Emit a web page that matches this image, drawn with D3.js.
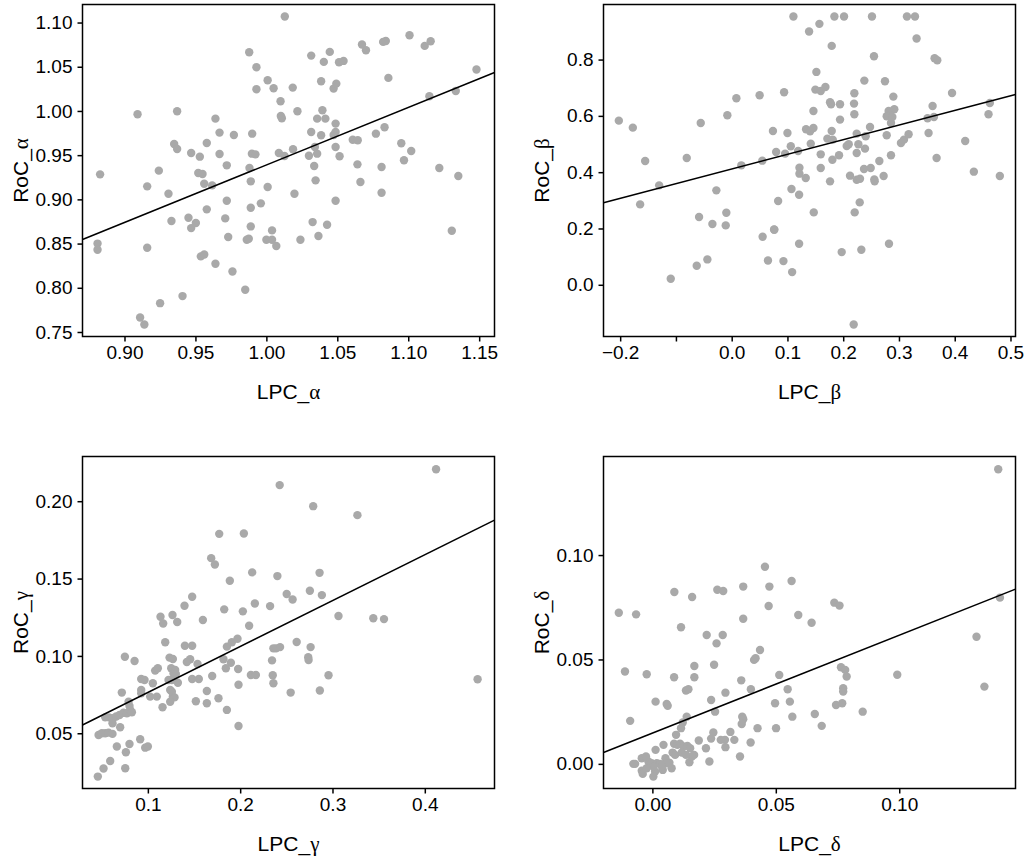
<!DOCTYPE html>
<html>
<head>
<meta charset="utf-8">
<script src="https://cdn.jsdelivr.net/npm/d3@7"></script>
<style>
  body { margin: 0; background: #fff; }
</style>
</head>
<body>
<div id="container"></div>
<script>
// [LPC, RoC] pairs, one array per band
const alphaPts = [
  [0.9092,0.9962],[0.9371,0.9996],[0.8828,0.9283],[0.881,0.85],[0.881,0.843],[0.916,0.9147],[0.9242,0.9325],[0.931,0.9064],
  [0.935,0.9626],[0.9371,0.957],[0.9331,0.8755],[0.916,0.8453],[0.911,0.7664],[0.914,0.7585],[0.9251,0.7826],[0.9409,0.7906],
  [0.947,0.9525],[0.9451,0.8792],[0.947,0.8675],[0.9503,0.8732],[0.9531,0.9483],[0.952,0.9298],[0.955,0.9287],[0.9562,0.9177],
  [0.9618,0.9158],[0.958,0.9638],[0.9641,0.9913],[0.967,0.9755],[0.967,0.9513],[0.9721,0.9385],[0.9721,0.8985],[0.958,0.8887],
  [0.971,0.8785],[0.9731,0.8574],[0.9538,0.8355],[0.9562,0.8377],[0.9641,0.8272],[0.9761,0.8185],[0.9771,0.9728],[0.9851,0.7977],
  [0.9879,1.0664],[0.993,1.0494],[0.993,1.0245],[0.99,0.9743],[0.9898,0.9517],[0.9923,0.9509],[0.9881,0.9355],[0.989,0.9204],
  [0.989,0.8906],[0.989,0.8694],[0.9961,0.8955],[0.9862,0.8543],[0.9876,0.8555],
  [1.013,1.1068],[1.0009,1.0347],[1.0051,1.0257],[1.0186,1.0264],[1.01,1.0109],[1.0102,0.9943],[1.0109,0.9917],[1.0219,0.9996],
  [1.0316,1.0626],[1.0405,1.0555],[1.0447,1.0668],[1.0386,1.0336],[1.0474,1.0253],[1.0493,1.0309],[1.0512,1.0551],[1.0544,1.0566],
  [1.0674,1.0751],[1.0702,1.0687],[1.0823,1.0781],[1.0842,1.0792],[1.1009,1.0857],[1.1116,1.0736],[1.1158,1.0789],[1.086,1.0374],
  [1.1481,1.0468],[1.1335,1.0226],[1.1149,1.0166],[1.0395,1.0008],[1.0358,0.9913],[1.0416,0.9913],[1.0316,0.9762],[1.0488,0.9857],
  [1.0386,0.9725],[1.0488,0.9762],[1.0474,0.9728],[1.03,0.9494],[1.0358,0.9517],[1.0342,0.9592],[1.0488,0.9592],[1.0516,0.9487],
  [1.0609,0.9675],[1.0644,0.9668],[1.0772,0.9743],[1.0833,0.9815],[1.0951,0.9634],[1.1021,0.9547],[1.097,0.9442],[1.0642,0.9396],
  [1.0812,0.9366],[1.1219,0.9355],[1.1353,0.9264],[1.0337,0.9377],[1.0347,0.9215],[1.0663,0.9196],[1.0812,0.9075],[1.0088,0.9525],
  [1.0128,0.9491],[1.0188,0.9566],[1.0009,0.914],[1.0198,0.9064],[1.0488,0.8985],[1.004,0.8649],[1.0,0.8543],[1.004,0.8543],
  [1.007,0.8472],[1.024,0.8543],[1.0326,0.8743],[1.0367,0.8585],[1.0428,0.8713],[1.1307,0.8645]
];
const betaPts = [
  [-0.2024,0.5831],[-0.1773,0.5582],[-0.1552,0.4397],[-0.1642,0.2856],[-0.1301,0.3532],[-0.1093,0.0213],[-0.0806,0.4504],
  [-0.0555,0.5748],[-0.0585,0.2406],[-0.0627,0.0676],[-0.0436,0.0901],[-0.0346,0.2157],[-0.0275,0.3354],[-0.0096,0.256],
  [-0.0107,0.211],[-0.0078,0.6021],[0.0084,0.6625],[0.0173,0.4243],[0.0501,0.6732],[0.0549,0.4409],[0.0555,0.1707],
  [0.0651,0.0865],[0.074,0.5464],[0.0764,0.1956],
  [0.1107,0.9529],[0.1842,0.9529],[0.2015,0.9529],[0.2516,0.9529],[0.3143,0.9529],[0.3287,0.9529],[0.1573,0.9268],[0.1388,0.8996],
  [0.1794,0.8486],[0.3316,0.8747],[0.2552,0.8119],[0.3639,0.8047],[0.3687,0.7976],[0.1519,0.7561],[0.2379,0.7253],[0.2749,0.723],
  [0.094,0.6838],[0.1501,0.6933],[0.1597,0.6886],[0.1681,0.7028],[0.22,0.6803],[0.3952,0.6815],[0.2899,0.6684],[0.1764,0.6483],
  [0.1782,0.6412],[0.1943,0.6412],[0.2194,0.6436],[0.3603,0.6353],[0.463,0.6459],[0.1466,0.6175],[0.22,0.6056],[0.2815,0.6175],
  [0.2916,0.6234],[0.2839,0.6021],[0.278,0.5985],[0.2881,0.5961],[0.4606,0.6056],[0.1943,0.5867],[0.3513,0.5914],[0.3627,0.5961],
  [0.2857,0.5748],[0.1,0.5393],[0.1334,0.5523],[0.1406,0.5452],[0.1466,0.557],[0.1794,0.5464],[0.2481,0.5606],[0.0797,0.4717],
  [0.0958,0.4658],[0.106,0.4919],[0.1191,0.4753],[0.1418,0.5013],[0.1716,0.5191],[0.1812,0.5156],[0.1597,0.4634],[0.1806,0.4444],
  [0.1925,0.4599],[0.2063,0.493],[0.2099,0.499],[0.2242,0.5369],[0.2272,0.499],[0.2242,0.4681],[0.2391,0.4836],[0.2403,0.5274],
  [0.278,0.531],[0.3036,0.5037],[0.309,0.5156],[0.3173,0.5345],[0.3531,0.5393],[0.4188,0.5108],[0.3675,0.4504],[0.2857,0.4599],
  [0.2648,0.4397],[0.1215,0.416],[0.1215,0.3947],[0.1328,0.3793],[0.1597,0.4148],[0.1764,0.3674],[0.2122,0.3876],[0.2242,0.3733],
  [0.2301,0.3769],[0.2373,0.4113],[0.2493,0.4148],[0.2558,0.3745],[0.2564,0.3674],[0.2725,0.3864],[0.4343,0.4018],[0.4809,0.3864],
  [0.0833,0.2975],[0.1072,0.3401],[0.1209,0.32],[0.1472,0.2572],[0.2296,0.2927],[0.2206,0.2572],[0.0761,0.1967],[0.1209,0.1458],
  [0.0928,0.0841],[0.1084,0.045],[0.1973,0.1161],[0.2325,0.1244],[0.2821,0.1458],[0.2188,-0.141]
];
const gammaPts = [
  [0.1773,0.1789],[0.204,0.1791],[0.1686,0.1632],[0.1726,0.1591],[0.213,0.154],[0.1888,0.1486],[0.148,0.1382],[0.2159,0.1339],
  [0.1397,0.1324],[0.1137,0.1253],[0.1267,0.1264],[0.1166,0.121],[0.1318,0.1219],[0.1596,0.1232],[0.1827,0.1301],[0.2029,0.1288],
  [0.2097,0.1195],
  [0.1188,0.1088],[0.1401,0.1066],[0.148,0.1066],[0.1856,0.106],[0.191,0.1088],[0.1971,0.1111],[0.0751,0.0995],[0.0856,0.0967],
  [0.1235,0.0989],[0.1271,0.098],[0.1458,0.0978],[0.1422,0.0961],[0.1538,0.0948],[0.1819,0.0978],[0.1899,0.0956],[0.1978,0.0915],
  [0.1845,0.092],[0.1079,0.0905],[0.1108,0.092],[0.1253,0.092],[0.1296,0.0909],[0.1278,0.0887],[0.1303,0.0883],[0.0928,0.0851],
  [0.0964,0.0844],[0.1054,0.0823],[0.1224,0.0844],[0.126,0.0844],[0.1325,0.0827],[0.148,0.0851],[0.1552,0.0851],[0.1697,0.087],
  [0.1982,0.0814],[0.2116,0.0877],[0.217,0.0877],[0.0718,0.0763],[0.0928,0.078],[0.0928,0.0758],[0.1025,0.0737],[0.1097,0.0737],
  [0.1242,0.078],[0.126,0.0769],[0.1271,0.0737],[0.1289,0.0732],[0.1639,0.0773],[0.1159,0.0668],[0.1242,0.0704],[0.152,0.0707],
  [0.1639,0.0694],[0.1765,0.0726],[0.1856,0.0651],[0.1982,0.0547],
  [0.0538,0.0603],[0.0578,0.0603],[0.0621,0.0597],[0.0657,0.0608],[0.0693,0.0618],[0.0736,0.0633],[0.0773,0.0629],[0.0809,0.0651],
  [0.0801,0.0677],[0.0791,0.0704],[0.0827,0.0636],[0.0617,0.0565],[0.07,0.0539],
  [0.0466,0.0489],[0.0502,0.05],[0.0538,0.05],[0.0574,0.0504],[0.0617,0.0496],[0.0664,0.0414],[0.0801,0.0431],[0.0762,0.0377],
  [0.0917,0.0461],[0.0971,0.0407],[0.1,0.0414],[0.0592,0.0321],[0.052,0.0272],[0.0755,0.0274],[0.0458,0.022],
  [0.4122,0.2207],[0.2428,0.2104],[0.2791,0.1968],[0.327,0.191],[0.2403,0.1516],[0.286,0.1537],[0.2504,0.14],[0.2568,0.1365],
  [0.2755,0.1421],[0.2885,0.1393],[0.2324,0.1322],[0.3065,0.1258],[0.3442,0.1243],[0.3558,0.1238],[0.2612,0.109],[0.236,0.1049],
  [0.2388,0.1049],[0.2432,0.1057],[0.2763,0.1057],[0.2345,0.0971],[0.2737,0.0991],[0.2741,0.0974],[0.2353,0.0875],[0.236,0.0823],
  [0.2957,0.0875],[0.2547,0.0763],[0.2863,0.0776],[0.4572,0.0849]
];
const deltaPts = [
  [0.0456,0.0944],[0.0368,0.0849],[0.0474,0.0849],[0.0471,0.0756],[0.0368,0.0695],[0.0263,0.0834],[0.0287,0.0828],[0.0089,0.0823],
  [0.0161,0.0799],[-0.0136,0.0724],[-0.0066,0.0716],
  [0.0116,0.0654],[0.022,0.0617],[0.0285,0.0617],[0.026,0.0577],[0.0436,0.0545],[0.0412,0.0498],[0.0418,0.0506],[-0.0111,0.0442],
  [-0.0023,0.0429],[0.0088,0.0415],[0.017,0.0469],[0.017,0.0415],[0.025,0.0475],[0.036,0.04],[0.0399,0.0357],[0.0296,0.0341],
  [0.0136,0.0351],[0.0146,0.0357],[0.0238,0.0306],[0.0254,0.025],[0.0058,0.0287],[0.0062,0.0278],[0.0013,0.0298],[-0.009,0.0206],
  [0.0139,0.0226],[0.0123,0.0198],[0.0116,0.0171],[0.0096,0.0139],[0.0364,0.0226],[0.0368,0.0214],[0.0362,0.0191],[0.0426,0.0171],
  [0.0247,0.015],[0.0316,0.0153],[0.0238,0.0121],[0.0188,0.0112],[0.0277,0.0115],[0.0294,0.0115],[0.0332,0.0115],[0.0398,0.0102],
  [0.0296,0.008],[0.0217,0.0075],[0.0355,0.0035],[0.0231,0.0011],[0.015,0.0008],
  [0.0045,0.0091],[0.0013,0.0067],[0.0088,0.0096],[0.0101,0.0091],[0.0112,0.0096],[0.0126,0.0083],[0.0142,0.0086],[0.0153,0.0075],
  [0.0169,0.0043],[0.016,0.0035],[0.0082,0.0054],[0.0092,0.0043],[0.0119,0.0054],[0.0136,0.0043],[0.0053,0.0027],[0.0069,0.0006],
  [0.0078,-0.0021],[0.0042,-0.0029],[0.0011,-0.0037],[0.0004,-0.0061],[-0.0016,0.0011],[-0.0003,0.0003],[0.0018,0.0003],[0.0031,0.0],
  [0.0058,0.0003],[-0.0043,0.0027],[-0.0026,0.0035],[-0.0077,0.0],[-0.007,0.0],[-0.0043,-0.0033],[-0.0039,-0.0048],[0.0004,-0.0013],
  [0.0038,-0.0013],[-0.0023,-0.0021],
  [0.1401,0.1411],[0.0564,0.0876],[0.0737,0.0772],[0.0758,0.0758],[0.0591,0.0713],[0.0645,0.0676],[0.1408,0.0796],[0.1313,0.0609],
  [0.0514,0.0426],[0.0764,0.0463],[0.0781,0.045],[0.0787,0.0418],[0.0992,0.0427],[0.0548,0.0357],[0.0773,0.0362],[0.0773,0.0346],
  [0.0557,0.0298],[0.0497,0.029],[0.0744,0.0282],[0.0769,0.029],[0.1345,0.037],[0.0852,0.025],[0.0567,0.0226],[0.0658,0.0239],
  [0.0686,0.0182],[0.0501,0.0171]
];

// fitted lines, [intercept, slope]
const fitAlpha = [0.2889, 0.650];
const fitBeta  = [0.4111, 0.5197];
const fitGamma = [0.0467, 0.2967];
const fitDelta = [0.0147, 0.469];

// tick values
const alphaXTicks = [0.90, 0.95, 1.00, 1.05, 1.10, 1.15];
const alphaYTicks = [0.75, 0.80, 0.85, 0.90, 0.95, 1.00, 1.05, 1.10];
const betaXTicks  = [-0.2, -0.1, 0.0, 0.1, 0.2, 0.3, 0.4, 0.5];
const betaYTicks  = [0.0, 0.2, 0.4, 0.6, 0.8];
const gammaXTicks = [0.1, 0.2, 0.3, 0.4];
const gammaYTicks = [0.05, 0.10, 0.15, 0.20];
const deltaXTicks = [0.00, 0.05, 0.10];
const deltaYTicks = [0.00, 0.05, 0.10];

const width = 1027, height = 861;
const pw = 412, ph = 332;
const colX = [82.5, 603.5];
const rowY = [4.5, 456.5];

const panels = [
  {pts: alphaPts, fit: fitAlpha, xd: [0.8704, 1.1608], yd: [0.7449, 1.1204],
   xt: alphaXTicks, yt: alphaYTicks, xf: d3.format('.2f'), yf: d3.format('.2f'), g: 'α', c: 0, r: 0},
  {pts: betaPts, fit: fitBeta, xd: [-0.2299, 0.509], yd: [-0.1837, 0.9956],
   xt: betaXTicks, yt: betaYTicks, xf: d => Math.abs(d + 0.1) < 1e-9 ? '' : d3.format('.1f')(d), yf: d3.format('.1f'), g: 'β', c: 1, r: 0},
  {pts: gammaPts, fit: fitGamma, xd: [0.0292, 0.4755], yd: [0.0143, 0.2289],
   xt: gammaXTicks, yt: gammaYTicks, xf: d3.format('.1f'), yf: d3.format('.2f'), g: 'γ', c: 0, r: 1},
  {pts: deltaPts, fit: fitDelta, xd: [-0.0198, 0.1471], yd: [-0.0118, 0.1472],
   xt: deltaXTicks, yt: deltaYTicks, xf: d3.format('.2f'), yf: d3.format('.2f'), g: 'δ', c: 1, r: 1}
];

const svg = d3.select('#container')
  .append('svg')
  .attr('width', width)
  .attr('height', height)
  .style('font-family', '"Liberation Sans", Arial, sans-serif');

panels.forEach(p => {
  const g = svg.append('g')
    .attr('transform', `translate(${colX[p.c]},${rowY[p.r]})`);

  const x = d3.scaleLinear().domain(p.xd).range([0, pw]);
  const y = d3.scaleLinear().domain(p.yd).range([ph, 0]);

  g.append('g')
    .selectAll('circle')
    .data(p.pts)
    .join('circle')
      .attr('cx', d => x(d[0]))
      .attr('cy', d => y(d[1]))
      .attr('r', 4.2)
      .attr('fill', '#a9a9a9');

  const f = x => p.fit[0] + p.fit[1] * x;
  g.append('line')
    .attr('x1', x(p.xd[0])).attr('y1', y(f(p.xd[0])))
    .attr('x2', x(p.xd[1])).attr('y2', y(f(p.xd[1])))
    .attr('stroke', '#000')
    .attr('stroke-width', 1.5);

  g.append('rect')
    .attr('width', pw).attr('height', ph)
    .attr('fill', 'none')
    .attr('stroke', '#000')
    .attr('stroke-width', 1.5);

  const xa = g.append('g')
    .attr('transform', `translate(0,${ph})`)
    .call(d3.axisBottom(x).tickValues(p.xt).tickFormat(p.xf).tickSize(5).tickPadding(4));
  const ya = g.append('g')
    .call(d3.axisLeft(y).tickValues(p.yt).tickFormat(p.yf).tickSize(5).tickPadding(5));
  [xa, ya].forEach(a => {
    a.select('.domain').remove();
    a.attr('font-size', 19).attr('font-family', null);
    a.selectAll('line').attr('stroke-width', 1.5);
    a.selectAll('text').attr('fill', '#000');
  });

  const xt = g.append('text')
    .attr('x', pw / 2)
    .attr('y', ph + 62)
    .attr('text-anchor', 'middle')
    .attr('font-size', 21)
    .text('LPC_');
  xt.append('tspan').attr('font-family', '"Liberation Serif", serif').text(p.g);

  const yt = g.append('text')
    .attr('transform', `translate(-55,${ph / 2}) rotate(-90)`)
    .attr('text-anchor', 'middle')
    .attr('font-size', 21)
    .text('RoC_');
  yt.append('tspan').attr('font-family', '"Liberation Serif", serif').text(p.g);
});
</script>
</body>
</html>
